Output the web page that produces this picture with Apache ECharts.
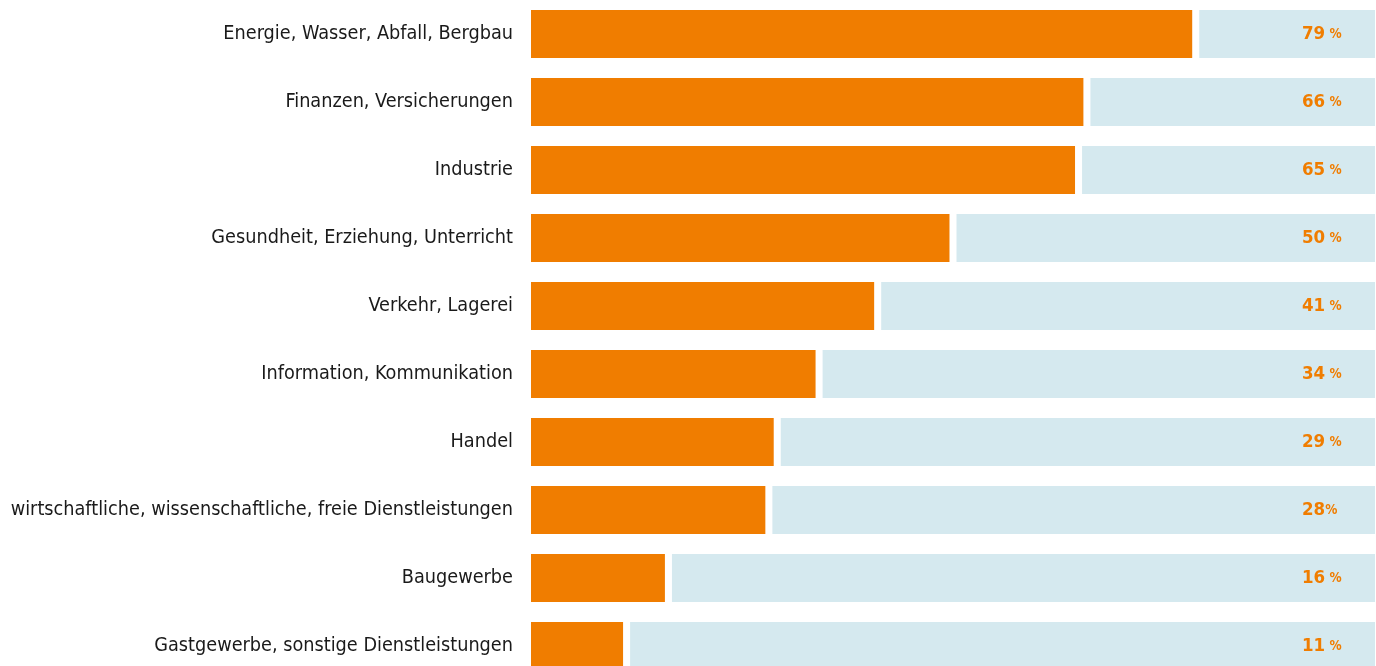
<!DOCTYPE html>
<html>
<head>
<meta charset="utf-8">
<script src="https://cdn.jsdelivr.net/npm/echarts@6/dist/echarts.min.js"></script>
<style>html,body{margin:0;padding:0;background:#fff}#c{width:1376px;height:666px}</style>
</head>
<body>
<div id="c"></div>
<script>
const categories = [
  'Energie, Wasser, Abfall, Bergbau',
  'Finanzen, Versicherungen',
  'Industrie',
  'Gesundheit, Erziehung, Unterricht',
  'Verkehr, Lagerei',
  'Information, Kommunikation',
  'Handel',
  'wirtschaftliche, wissenschaftliche, freie Dienstleistungen',
  'Baugewerbe',
  'Gastgewerbe, sonstige Dienstleistungen'
];
const values = [79, 66, 65, 50, 41, 34, 29, 28, 16, 11];
const valueNumbers = ['79', '66', '65', '50', '41', '34', '29', '28', '16', '11'];
const valueSuffixes = [' %', ' %', ' %', ' %', ' %', ' %', ' %', '%', ' %', ' %'];
const total = 100;

const GAP = 0.84; // visual spacer between the two segments (axis units)
const remainder = values.map(v => total - v);
const spacer = values.map(() => GAP);

const FONT = '"Liberation Sans Narrow", "DejaVu Sans Condensed", sans-serif';
const chart = echarts.init(document.getElementById('c'), null, {renderer: 'canvas'});
chart.setOption({
  animation: false,
  grid: {left: 531, right: 1, top: 0, bottom: -14, containLabel: false, outerBoundsMode: 'none'},
  xAxis: {type: 'value', min: 0, max: total + GAP, show: false},
  yAxis: {
    type: 'category', data: categories, inverse: true,
    axisLine: {show: false}, axisTick: {show: false},
    axisLabel: {margin: 18, color: '#1a1a1a', fontSize: 19.7, fontFamily: FONT}
  },
  series: [
    {type: 'bar', stack: 's', data: values, barWidth: 48,
     itemStyle: {color: '#F07D00'}},
    {type: 'bar', stack: 's', data: spacer, barWidth: 48,
     itemStyle: {color: 'rgba(0,0,0,0)'}},
    {type: 'bar', stack: 's', data: remainder, barWidth: 48,
     itemStyle: {color: '#D5E9EF'},
     label: {
       show: true, position: 'insideRight', distance: 73, align: 'left',
       formatter: p => '{n|' + valueNumbers[p.dataIndex] + '}{p|' + valueSuffixes[p.dataIndex] + '}',
       rich: {
         n: {color: '#F07D00', fontWeight: 'bold', fontSize: 18.5, fontFamily: FONT},
         p: {color: '#F07D00', fontWeight: 'bold', fontSize: 13.5, fontFamily: FONT}
       }
     }}
  ]
});
</script>
</body>
</html>
